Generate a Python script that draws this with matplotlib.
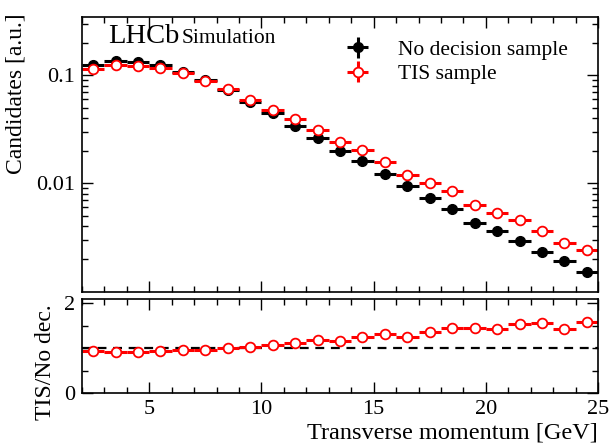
import numpy as np
import matplotlib
matplotlib.use('Agg')
import matplotlib.pyplot as plt
from matplotlib.ticker import MultipleLocator, FixedLocator, FixedFormatter, NullFormatter, LogLocator

plt.rcParams['font.family'] = ['Liberation Serif', 'DejaVu Serif']
plt.rcParams['mathtext.fontset'] = 'stix'

# bin centres [GeV], width 1 GeV
pt = [2.5, 3.5, 4.5, 5.5, 6.5, 7.5, 8.5, 9.5, 10.5, 11.5, 12.5, 13.5,
      14.5, 15.5, 16.5, 17.5, 18.5, 19.5, 20.5, 21.5, 22.5, 23.5, 24.5]
no_dec = [0.1238, 0.1356, 0.1336, 0.1245, 0.1079, 0.0910, 0.0735, 0.0566,
          0.0445, 0.0340, 0.0261, 0.0199, 0.0160, 0.01211, 0.00944, 0.00736,
          0.00574, 0.00432, 0.00364, 0.00292, 0.00231, 0.00192, 0.00151]
tis = [0.1150, 0.1245, 0.1202, 0.1161, 0.1057, 0.0890, 0.0742, 0.0590,
       0.0477, 0.0394, 0.0310, 0.0238, 0.0202, 0.01564, 0.01194, 0.01013,
       0.00849, 0.00630, 0.00527, 0.00454, 0.00361, 0.00278, 0.00240]
ratio = [0.93, 0.91, 0.91, 0.93, 0.955, 0.97, 1.00, 1.02, 1.07, 1.12, 1.18, 1.17,
         1.255, 1.31, 1.255, 1.36, 1.46, 1.45, 1.44, 1.54, 1.555, 1.435, 1.58]
half_bin = 0.5

fig = plt.figure(figsize=(6.11, 4.48), dpi=100)
ax = fig.add_axes([0.134, 0.348, 0.845, 0.614])
axr = fig.add_axes([0.134, 0.122, 0.845, 0.211])

lw = 2.2
ax.errorbar(pt, no_dec, xerr=half_bin, yerr=0, fmt='o', color='black', ms=7,
            elinewidth=lw, capsize=0, label='No decision sample')
ax.errorbar(pt, tis, xerr=half_bin, yerr=0, fmt='o', color='red', mfc='white',
            mec='red', mew=1.3, ms=7, elinewidth=lw, capsize=0, label='TIS sample')

ax.set_yscale('log')
ax.set_xlim(2, 25)
ax.set_ylim(0.00098, 0.345)
ax.yaxis.set_major_locator(FixedLocator([0.01, 0.1]))
ax.yaxis.set_major_formatter(FixedFormatter(['0.01', '0.1']))
ax.yaxis.set_minor_locator(LogLocator(base=10, subs=np.arange(2, 10)))
ax.yaxis.set_minor_formatter(NullFormatter())
ax.xaxis.set_major_locator(MultipleLocator(5))
ax.xaxis.set_minor_locator(MultipleLocator(1))
ax.set_xticklabels([])
ax.set_ylabel('Candidates [a.u.]', fontsize=17)
ax.yaxis.set_label_coords(-0.108, 0.722)

ax.text(0.05, 0.905, 'LHCb', transform=ax.transAxes, fontsize=20.5, va='baseline')
ax.text(0.193, 0.905, 'Simulation', transform=ax.transAxes, fontsize=15.5, va='baseline')

leg = ax.legend(loc='upper left', bbox_to_anchor=(0.478, 0.972), frameon=False,
                fontsize=15.5, handlelength=1.3, handletextpad=1.2, labelspacing=0.2,
                borderaxespad=0.3)

axr.plot([2, 25], [1, 1], ls='--', color='black', lw=1.6, dashes=(4, 3))
axr.errorbar(pt, ratio, xerr=half_bin, yerr=0, fmt='o', color='red', mfc='white',
             mec='red', mew=1.3, ms=7, elinewidth=lw, capsize=0)
axr.set_xlim(2, 25)
axr.set_ylim(0, 2.1)
axr.yaxis.set_major_locator(FixedLocator([0, 2]))
axr.yaxis.set_minor_locator(MultipleLocator(0.5))
axr.xaxis.set_major_locator(MultipleLocator(5))
axr.xaxis.set_minor_locator(MultipleLocator(1))
axr.set_ylabel('TIS/No dec.', fontsize=17)
axr.yaxis.set_label_coords(-0.05, 0.33)
axr.set_xlabel('Transverse momentum [GeV]', fontsize=17.5, labelpad=2, loc='right')

for a in (ax, axr):
    a.tick_params(which='both', direction='in', top=True, right=True, labelsize=16, width=1.0)
    a.tick_params(which='major', length=8, pad=5)
    a.tick_params(which='minor', length=4)
    for s in a.spines.values():
        s.set_linewidth(1.2)

fig.savefig('out.png', dpi=100)
